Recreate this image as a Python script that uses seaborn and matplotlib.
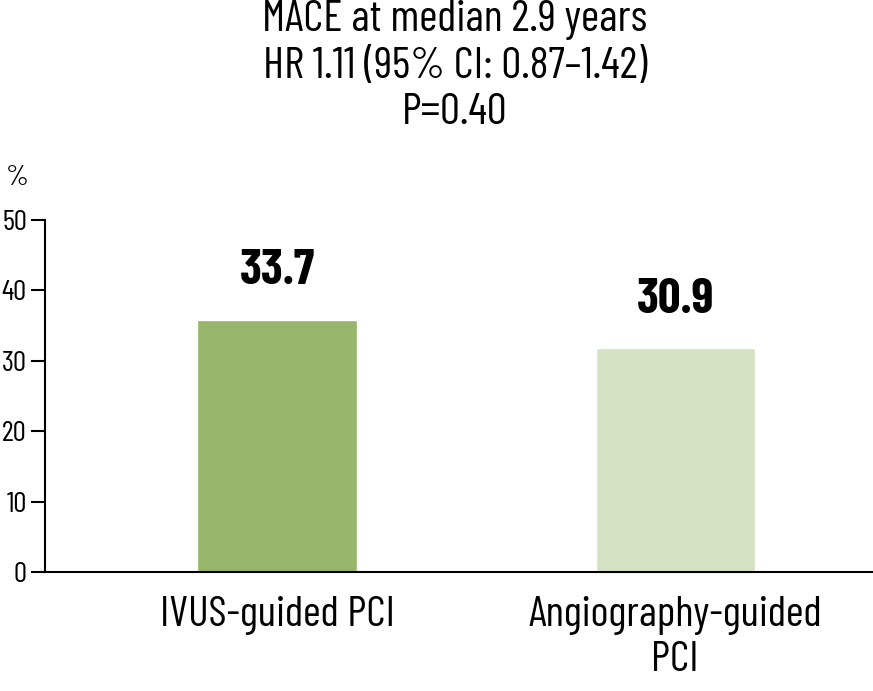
import matplotlib
matplotlib.use("Agg")
import matplotlib.pyplot as plt
import seaborn as sns
import pandas as pd

# values
groups = ["IVUS-guided PCI", "Angiography-guided\nPCI"]
bar_heights = [35.8, 31.8]      # bar tops as drawn
bar_labels = ["33.7", "30.9"]   # printed values
bar_colors = ["#97b66b", "#d5e2c4"]
title_lines = ["MACE at median 2.9 years",
               "HR 1.11 (95% CI: 0.87\u20131.42)",
               "P=0.40"]
yticks = [0, 10, 20, 30, 40, 50]

sns.set_style("white")
plt.rcParams["font.family"] = ["Barlow Condensed", "DejaVu Sans"]
plt.rcParams["text.color"] = "black"
plt.rcParams["xtick.color"] = "black"
plt.rcParams["ytick.color"] = "black"

df = pd.DataFrame({"group": groups, "pct": bar_heights})

fig = plt.figure(figsize=(8.73, 6.91), dpi=100)
ax = fig.add_axes([45 / 873, 1 - 572 / 691, 1 - 45 / 873, (572 - 220) / 691])

sns.barplot(data=df, x="group", y="pct", hue="group", palette=bar_colors,
            width=0.4, legend=False, ax=ax, saturation=1)

ax.set_xlim(-0.583, 1.497)
ax.set_ylim(0, 50)
ax.set_yticks(yticks)
ax.set_xlabel("")
ax.set_ylabel("")

for s in ["top", "right"]:
    ax.spines[s].set_visible(False)
for s in ["left", "bottom"]:
    ax.spines[s].set_linewidth(1.5)
    ax.spines[s].set_color("black")

ax.tick_params(axis="y", direction="out", length=10, width=1.5,
               labelsize=21, pad=3, left=True)
ax.tick_params(axis="x", length=0, labelsize=31, pad=17)
for lab in ax.get_xticklabels():
    lab.set_linespacing(1.2)

for i, (h, t) in enumerate(zip(bar_heights, bar_labels)):
    ax.annotate(t, (i, h), xytext=(0, 35), textcoords="offset points",
                ha="center", va="center", fontsize=36, fontweight="bold")

for line, ypx in zip(title_lines, [20, 67, 113]):
    fig.text(455 / 873, 1 - ypx / 691, line, ha="center", va="center",
             fontsize=32)

fig.text(17 / 873, 1 - 178 / 691, "%", ha="center", va="center", fontsize=21)

fig.savefig("out.png", dpi=100)
